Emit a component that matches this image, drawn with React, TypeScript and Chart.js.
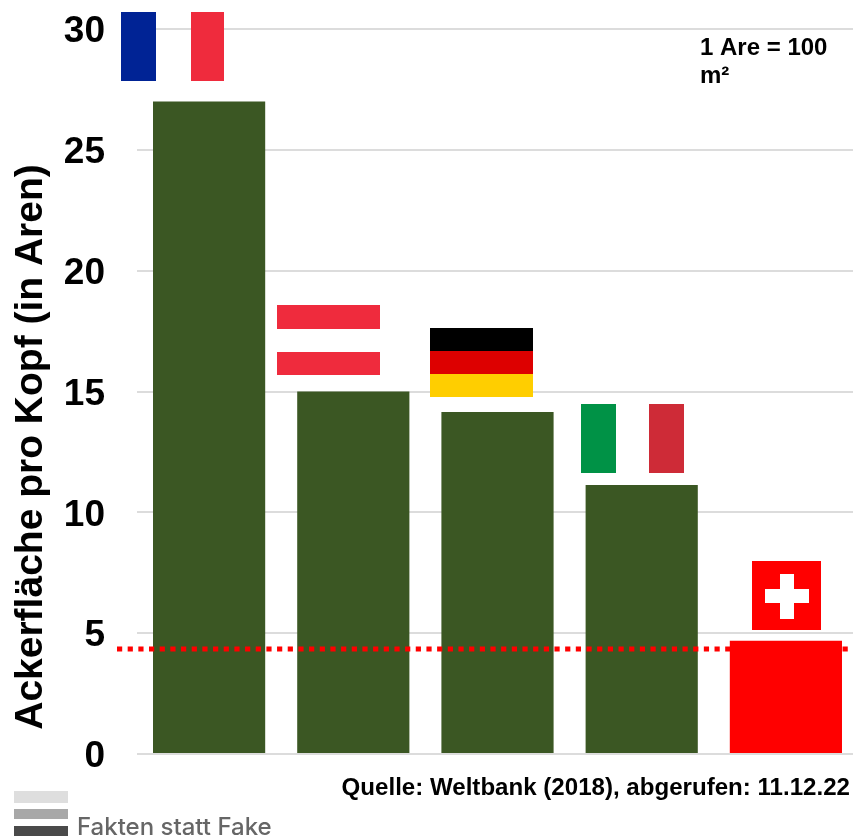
import React, { useEffect, useRef } from "react";
import { Chart, registerables } from "chart.js";

Chart.register(...registerables);

const countries = ["Frankreich", "Österreich", "Deutschland", "Italien", "Schweiz"];
const arablePerHead = [27, 15, 14.15, 11.13, 4.69];
const barColors = ["#3b5723", "#3b5723", "#3b5723", "#3b5723", "#ff0000"];
const referenceValue = 4.35;
const yTicks = [0, 5, 10, 15, 20, 25, 30];
const yTitle = "Ackerfläche pro Kopf (in Aren)";
const noteLines = ["1 Are = 100", "m²"];
const sourceText = "Quelle: Weltbank (2018), abgerufen: 11.12.22";
const logoText = "Fakten statt Fake";

const FONT = '"Liberation Sans", Arial, sans-serif';

type Ctx = CanvasRenderingContext2D;

function france(c: Ctx, x: number, y: number) {
  c.fillStyle = "#002395";
  c.fillRect(x, y, 35, 69);
  c.fillStyle = "#ef2b3d";
  c.fillRect(x + 70, y, 33, 69);
}
function austria(c: Ctx, x: number, y: number) {
  c.fillStyle = "#ef2b3d";
  c.fillRect(x, y, 103, 24);
  c.fillRect(x, y + 47, 103, 23);
}
function germany(c: Ctx, x: number, y: number) {
  c.fillStyle = "#000000";
  c.fillRect(x, y, 103, 23);
  c.fillStyle = "#dd0000";
  c.fillRect(x, y + 23, 103, 23);
  c.fillStyle = "#ffce00";
  c.fillRect(x, y + 46, 103, 23);
}
function italy(c: Ctx, x: number, y: number) {
  c.fillStyle = "#009246";
  c.fillRect(x, y, 35, 69);
  c.fillStyle = "#ce2b37";
  c.fillRect(x + 68, y, 35, 69);
}
function swiss(c: Ctx, x: number, y: number) {
  c.fillStyle = "#ff0000";
  c.fillRect(x, y, 69, 69);
  c.fillStyle = "#ffffff";
  c.fillRect(x + 28, y + 13, 14, 45);
  c.fillRect(x + 13, y + 28, 44, 14);
}

const flagPainters = [france, austria, germany, italy, swiss];
const flagShift = [-88, -76, -68, -61, -34];
const flagLift = [89, 87, 84, 81, 80];

const overlay = {
  id: "overlay",
  afterDatasetsDraw(chart: any) {
    const c: Ctx = chart.ctx;
    const y = chart.scales.y;
    const bars = chart.getDatasetMeta(0).data;
    c.save();

    bars.forEach((bar: any, i: number) => {
      flagPainters[i](c, Math.round(bar.x + flagShift[i]), Math.round(bar.y - flagLift[i]));
    });

    const ry = y.getPixelForValue(referenceValue);
    c.strokeStyle = "#ff0000";
    c.lineWidth = 5;
    c.setLineDash([5.2, 5.47]);
    c.beginPath();
    c.moveTo(117, ry);
    c.lineTo(849, ry);
    c.stroke();
    c.setLineDash([]);

    c.fillStyle = "#000000";
    c.save();
    c.translate(42, 447);
    c.rotate(-Math.PI / 2);
    c.font = `bold 39px ${FONT}`;
    c.textAlign = "center";
    c.textBaseline = "alphabetic";
    c.fillText(yTitle, 0, 0);
    c.restore();

    c.textAlign = "left";
    c.textBaseline = "alphabetic";
    c.font = `bold 24px ${FONT}`;
    c.fillText(noteLines[0], 700, 55);
    c.fillText(noteLines[1], 700, 83);

    c.textAlign = "right";
    c.font = `bold 24.1px ${FONT}`;
    c.fillText(sourceText, 850, 795);

    c.fillStyle = "#dedede";
    c.fillRect(14, 791, 54, 12);
    c.fillStyle = "#a8a8a8";
    c.fillRect(14, 809, 54, 10);
    c.fillStyle = "#4a4a4a";
    c.fillRect(14, 826, 54, 10);

    c.fillStyle = "#666666";
    c.textAlign = "left";
    c.font = "500 24px Inter, Roboto, sans-serif";
    c.fillText(logoText, 77, 835);
    c.restore();
  },
};

export default function App() {
  const ref = useRef<HTMLCanvasElement>(null);

  useEffect(() => {
    document.body.style.margin = "0";
    document.body.style.overflow = "hidden";
    const chart = new Chart(ref.current!, {
      type: "bar",
      data: {
        labels: countries,
        datasets: [
          {
            data: arablePerHead,
            backgroundColor: barColors,
            barPercentage: 0.778,
            categoryPercentage: 1,
          },
        ],
      },
      options: {
        responsive: false,
        animation: false,
        devicePixelRatio: 1,
        layout: { padding: { top: 29, bottom: 84, left: 0, right: 0 } },
        plugins: { legend: { display: false }, tooltip: { enabled: false } },
        scales: {
          x: {
            ticks: { display: false },
            grid: { display: false },
            border: { display: false },
            afterFit(scale: any) {
              scale.height = 0;
              scale.paddingTop = 0;
              scale.paddingBottom = 0;
            },
          },
          y: {
            min: 0,
            max: 30,
            afterFit(scale: any) {
              scale.width = 137;
              scale.paddingTop = 0;
              scale.paddingBottom = 0;
            },
            afterBuildTicks(scale: any) {
              scale.ticks = yTicks.map((value) => ({ value }));
            },
            grid: { color: "#dcdcdc", lineWidth: 2, drawTicks: false },
            border: { display: false },
            ticks: {
              color: "#000000",
              padding: 32,
              labelOffset: 3,
              font: { family: FONT, size: 37, weight: "bold" },
            },
          },
        },
      },
      plugins: [overlay],
    } as any);
    return () => chart.destroy();
  }, []);

  return (
    <div style={{ position: "fixed", left: 0, top: 0, width: 853, height: 838, overflow: "hidden", background: "#fff" }}>
      <canvas ref={ref} width={858} height={838} style={{ display: "block" }} />
    </div>
  );
}
